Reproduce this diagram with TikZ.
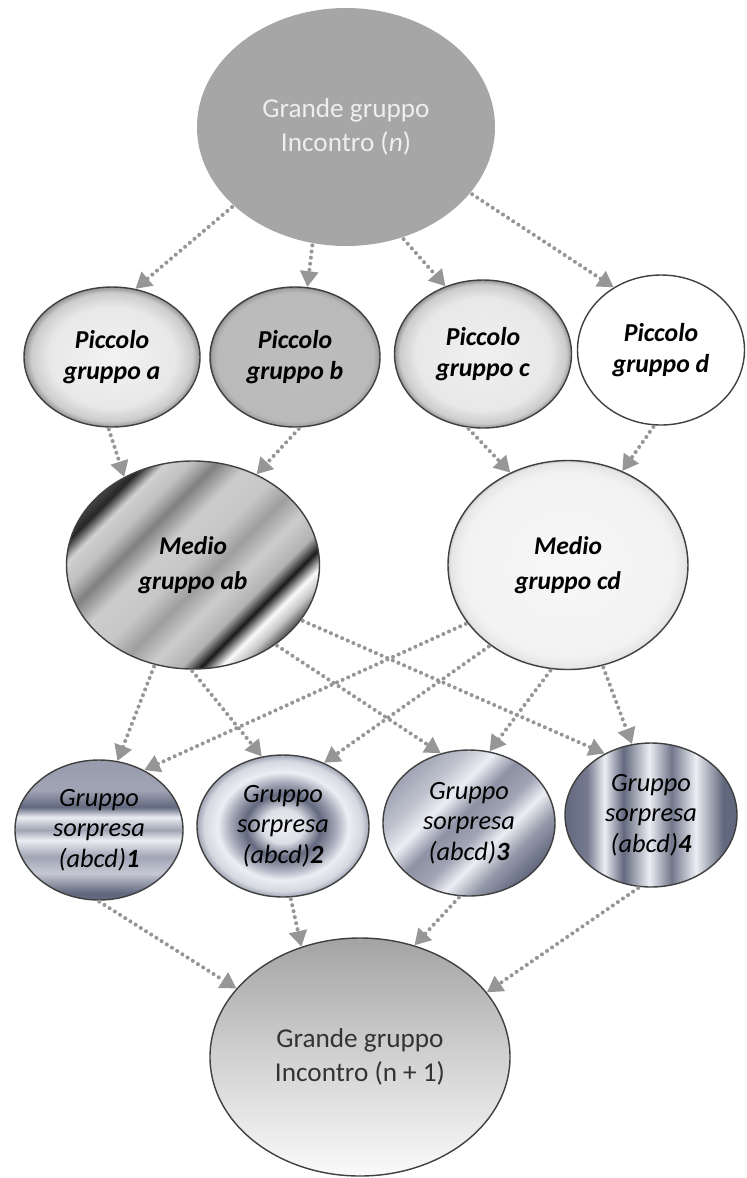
\documentclass[tikz,border=0pt]{standalone}
\usepackage{fontspec}
\setmainfont{Carlito}
\usepackage{xcolor}
\usepackage{tikz}
\usetikzlibrary{arrows.meta,shapes.geometric}
\definecolor{grandegray}{RGB}{166,166,166}
\definecolor{grandetext}{RGB}{238,238,238}
\definecolor{grigiofreccia}{RGB}{150,150,150}
\definecolor{bordo}{RGB}{64,64,64}
\definecolor{ardesia}{RGB}{98,104,126}
\definecolor{ardesiamid}{RGB}{160,164,180}
\definecolor{ardesiachiaro}{RGB}{236,238,243}

% riempimenti dei gruppi
\pgfdeclareradialshading{marmoa}{\pgfpoint{0bp}{0bp}}{color(0bp)=(black!5); color(18bp)=(black!9); color(23bp)=(black!20); color(25bp)=(black!42); color(50bp)=(black!42)}
\pgfdeclareradialshading{pienob}{\pgfpoint{0bp}{0bp}}{color(0bp)=(black!26); color(23bp)=(black!27); color(24.5bp)=(black!36); color(25bp)=(black!50); color(50bp)=(black!50)}
\pgfdeclareradialshading{granac}{\pgfpoint{0bp}{0bp}}{color(0bp)=(black!6); color(19bp)=(black!9); color(23.5bp)=(black!20); color(25bp)=(black!42); color(50bp)=(black!42)}
\pgfdeclareradialshading{marmocd}{\pgfpoint{0bp}{0bp}}{color(0bp)=(black!3); color(22bp)=(black!5); color(24.5bp)=(black!10); color(25bp)=(black!22); color(50bp)=(black!22)}
\pgfdeclarehorizontalshading{striscieab}{100bp}{color(0bp)=(black!75); color(25bp)=(black!75); color(27bp)=(black!85); color(30bp)=(black!18); color(34bp)=(black!25); color(38bp)=(black!50); color(43bp)=(black!20); color(49bp)=(black!22); color(54bp)=(black!38); color(59bp)=(black!20); color(64bp)=(black!30); color(67bp)=(black!90); color(70bp)=(black!2); color(72.5bp)=(black!22); color(75bp)=(black!65); color(100bp)=(black!65)}
\pgfdeclareverticalshading{sorpresauno}{100bp}{color(0bp)=(ardesia); color(27.5bp)=(ardesia); color(34.6bp)=(ardesiamid!50!ardesiachiaro); color(40.4bp)=(ardesiamid); color(46.4bp)=(ardesiachiaro); color(50bp)=(ardesiamid); color(54.6bp)=(ardesiachiaro); color(58.2bp)=(ardesia); color(64.3bp)=(ardesiamid); color(75bp)=(ardesiamid!85!ardesia); color(100bp)=(ardesiamid!85!ardesia)}
\pgfdeclareradialshading{sorpresadue}{\pgfpoint{0bp}{0bp}}{color(0bp)=(ardesiachiaro); color(6bp)=(ardesiachiaro!80!ardesiamid); color(11bp)=(ardesia); color(15bp)=(ardesiamid); color(19bp)=(ardesiachiaro); color(23bp)=(ardesiachiaro!70!ardesiamid); color(25bp)=(ardesiamid); color(50bp)=(ardesiamid)}
\pgfdeclarehorizontalshading{sorpresatre}{100bp}{color(0bp)=(ardesiamid); color(25bp)=(ardesiamid); color(33bp)=(ardesiamid!60!ardesiachiaro); color(40bp)=(ardesiachiaro); color(47bp)=(ardesiamid!70!ardesia); color(54bp)=(ardesiamid); color(60bp)=(ardesiachiaro); color(67bp)=(ardesiamid!80!ardesia); color(75bp)=(ardesia); color(100bp)=(ardesia)}
\pgfdeclarehorizontalshading{sorpresaquattro}{100bp}{color(0bp)=(ardesia); color(25bp)=(ardesia); color(31.5bp)=(ardesia!70!ardesiamid); color(36.5bp)=(ardesiachiaro); color(42bp)=(ardesia); color(49.5bp)=(ardesiachiaro); color(56bp)=(ardesia!75!ardesiamid); color(63bp)=(ardesiachiaro); color(71bp)=(ardesia); color(75bp)=(ardesia); color(100bp)=(ardesia)}
\pgfdeclareverticalshading{sfumatofine}{100bp}{color(0bp)=(black!2); color(25bp)=(black!2); color(50bp)=(black!18); color(75bp)=(black!36); color(100bp)=(black!36)}

\tikzset{
  gruppo/.style={ellipse, draw=bordo, line width=0.8pt, inner sep=0pt, align=center, text=black},
  ovale/.style 2 args={minimum width=#1*0.02cm, minimum height=#2*0.02cm},
  piccolo/.style={gruppo, font=\fontsize{14.7}{18}\selectfont\bfseries\itshape},
  medio/.style={gruppo, font=\fontsize{14.5}{20}\selectfont\bfseries\itshape},
  sorpresa/.style={gruppo, font=\fontsize{15}{17.5}\selectfont\itshape},
  grande/.style={gruppo, font=\fontsize{15.5}{19.8}\selectfont},
  freccia/.style={draw=grigiofreccia, line width=2.3pt, line cap=round, dash pattern=on 0pt off 3.5pt,
    shorten <=1pt, -{Triangle[length=9pt,width=10pt]}}
}

\begin{document}
\begin{tikzpicture}[x=0.02cm, y=-0.02cm]
  \useasboundingbox (0,0) rectangle (747,1178);
  % incontro n
  \node[grande, ovale={298}{238}, draw=none, fill=grandegray, text=grandetext] (grande) at (346,127) {Grande gruppo\\Incontro (\textit{n})};
  % piccoli gruppi
  \node[piccolo, ovale={176}{140}, shading=marmoa] (pa) at (112,357) {Piccolo\\gruppo a};
  \node[piccolo, ovale={170}{140}, shading=pienob] (pb) at (295,357) {Piccolo\\gruppo b};
  \node[piccolo, ovale={177}{148}, shading=granac] (pc) at (483,354) {Piccolo\\gruppo c};
  \node[piccolo, ovale={167}{150}, fill=white] (pd) at (661,350) {Piccolo\\gruppo d};
  % medi gruppi
  \node[medio, ovale={253}{208}, shading=striscieab, shading angle=-45] (mab) at (193,565) {Medio\\gruppo ab};
  \node[medio, ovale={240}{209}, shading=marmocd] (mcd) at (568,565) {Medio\\gruppo cd};
  % gruppi sorpresa
  \node[sorpresa, ovale={168}{140}, shading=sorpresauno] (s1) at (99,830) {Gruppo\\sorpresa\\(abcd)\textbf{1}};
  \node[sorpresa, ovale={172}{142}, shading=sorpresadue] (s2) at (283,826) {Gruppo\\sorpresa\\(abcd)\textbf{2}};
  \node[sorpresa, ovale={172}{146}, shading=sorpresatre, shading angle=-45] (s3) at (469,823) {Gruppo\\sorpresa\\(abcd)\textbf{3}};
  \node[sorpresa, ovale={172}{144}, shading=sorpresaquattro] (s4) at (651,815) {Gruppo\\sorpresa\\(abcd)\textbf{4}};
  % incontro n+1
  \node[grande, ovale={300}{238}, shading=sfumatofine, text=black!80] (fine) at (360,1057) {Grande gruppo\\Incontro (n + 1)};

  \foreach \da/\a in {grande.215/pa.71, grande.254/pb.80, grande.297/pc.119, grande.332/pd.127,
      pa.267/mab.128, pb.274/mab.55, pc.258/mcd.122, pd.265/mcd.60,
      mab.249/s1.75, mab.269/s2.107, mab.316/s3.112, mab.333/s4.127,
      mcd.210/s1.53, mcd.226/s2.57, mcd.261/s3.74, mcd.289/s4.105,
      s1.269/fine.151, s2.276/fine.118, s3.263/fine.64, s4.261/fine.27}
    \draw[freccia] (\da) -- (\a);
\end{tikzpicture}
\end{document}
